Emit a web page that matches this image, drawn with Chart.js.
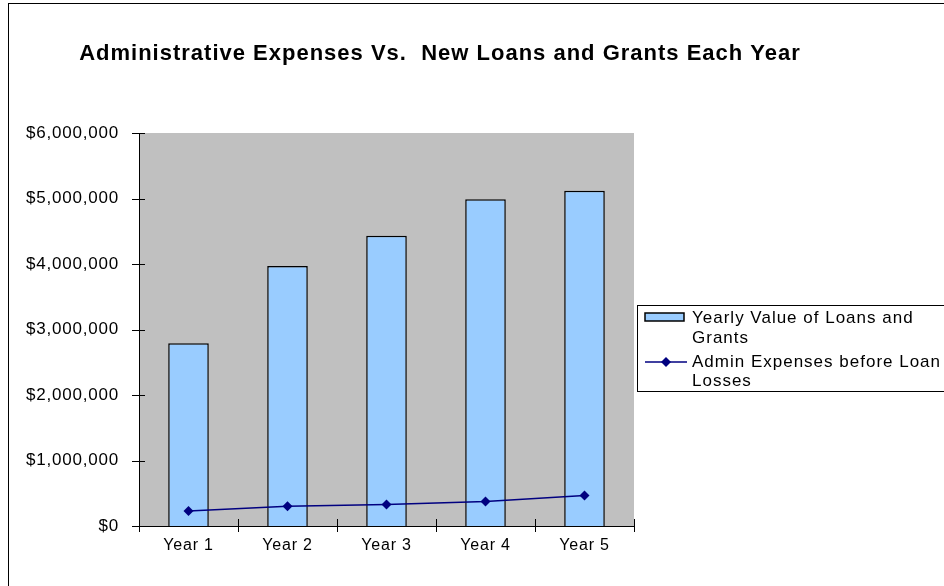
<!DOCTYPE html>
<html>
<head>
<meta charset="utf-8">
<script src="https://cdn.jsdelivr.net/npm/chart.js@4"></script>
<style>
  html, body { margin: 0; padding: 0; background: #ffffff; overflow: hidden; }
  #wrap { position: absolute; left: 0; top: 0; width: 944px; height: 586px; }
</style>
</head>
<body>
<div id="wrap"><canvas id="c" width="944" height="586"></canvas></div>
<script>
// ---- data ----
const categories = ['Year 1', 'Year 2', 'Year 3', 'Year 4', 'Year 5'];
const loansGrants = [2790000, 3970000, 4430000, 4990000, 5120000];
const adminExpenses = [230000, 300000, 330000, 373000, 465000];
const yMin = 0, yMax = 6000000, yStep = 1000000;
const titleText = 'Administrative Expenses Vs.  New Loans and Grants Each Year';
const seriesNames = ['Yearly Value of Loans and Grants', 'Admin Expenses before Loan Losses'];
const legendLines = [['Yearly Value of Loans and', 'Grants'], ['Admin Expenses before Loan', 'Losses']];

const FONT = '"Liberation Sans", Arial, sans-serif';
const BAR_FILL = '#99CCFF';
const LINE_COL = '#000080';
const AXIS_SPACING = '0.8px';

function money(v) { return '$' + Number(v).toLocaleString('en-US'); }

function setSpacing(ctx, px) { try { ctx.letterSpacing = px; } catch (e) {} }

const decor = {
  id: 'decor',
  beforeUpdate(chart) { setSpacing(chart.ctx, AXIS_SPACING); },
  beforeDraw(chart) {
    const ctx = chart.ctx, a = chart.chartArea;
    setSpacing(ctx, AXIS_SPACING);
    ctx.save();
    ctx.fillStyle = '#ffffff';
    ctx.fillRect(0, 0, chart.width, chart.height);
    ctx.strokeStyle = '#000000';
    ctx.lineWidth = 1;
    ctx.strokeRect(8.5, 3.5, 2000, 2000);
    ctx.fillStyle = '#C0C0C0';
    ctx.fillRect(a.left, a.top, a.right - a.left, a.bottom - a.top);
    ctx.restore();
  },
  afterDraw(chart) {
    const ctx = chart.ctx, a = chart.chartArea;
    const ys = chart.scales.y;
    ctx.save();
    ctx.strokeStyle = '#000000';
    ctx.lineWidth = 1;
    // y cross ticks
    ys.ticks.forEach((t, i) => {
      const py = Math.round(ys.getPixelForTick(i)) + 0.5;
      ctx.beginPath(); ctx.moveTo(a.left - 7, py); ctx.lineTo(a.left + 6, py); ctx.stroke();
    });
    // x cross ticks at category boundaries
    const n = categories.length;
    const w = (a.right - a.left) / n;
    for (let i = 0; i <= n; i++) {
      const px = Math.round(a.left + i * w) + 0.5;
      ctx.beginPath(); ctx.moveTo(px, a.bottom - 7); ctx.lineTo(px, a.bottom + 6); ctx.stroke();
    }
    // title
    setSpacing(ctx, '1px');
    ctx.fillStyle = '#000000';
    ctx.font = 'bold 22px ' + FONT;
    ctx.textAlign = 'center';
    ctx.textBaseline = 'alphabetic';
    ctx.fillText(titleText, 440, 60);
    // legend
    setSpacing(ctx, '1px');
    const bx = 637.5, by = 305.5, bh = 86;
    ctx.fillStyle = '#ffffff';
    ctx.fillRect(bx, by, 400, bh);
    ctx.strokeRect(bx, by, 400, bh);
    ctx.font = '17px ' + FONT;
    ctx.textAlign = 'left';
    // entry 1: bar swatch
    ctx.fillStyle = BAR_FILL;
    ctx.fillRect(645, 313, 39, 8);
    ctx.lineWidth = 1.5;
    ctx.strokeStyle = '#000000';
    ctx.strokeRect(645, 313, 39, 8);
    ctx.fillStyle = '#000000';
    ctx.fillText(legendLines[0][0], 692, 323);
    ctx.fillText(legendLines[0][1], 692, 343);
    // entry 2: line + diamond
    const ly = 362;
    ctx.strokeStyle = LINE_COL;
    ctx.lineWidth = 1.5;
    ctx.beginPath(); ctx.moveTo(645, ly); ctx.lineTo(687, ly); ctx.stroke();
    ctx.fillStyle = LINE_COL;
    ctx.beginPath();
    ctx.moveTo(666, ly - 5); ctx.lineTo(671, ly); ctx.lineTo(666, ly + 5); ctx.lineTo(661, ly); ctx.closePath();
    ctx.fill();
    ctx.fillStyle = '#000000';
    ctx.fillText(legendLines[1][0], 692, 367);
    ctx.fillText(legendLines[1][1], 692, 386);
    ctx.restore();
  }
};

new Chart(document.getElementById('c'), {
  data: {
    labels: categories,
    datasets: [
      {
        type: 'line',
        label: seriesNames[1],
        data: adminExpenses,
        borderColor: LINE_COL,
        backgroundColor: LINE_COL,
        borderWidth: 1.5,
        pointStyle: 'rectRot',
        pointRadius: 5,
        pointBorderWidth: 0,
        pointBackgroundColor: LINE_COL,
        tension: 0,
        order: 0
      },
      {
        type: 'bar',
        label: seriesNames[0],
        data: loansGrants,
        backgroundColor: BAR_FILL,
        borderColor: '#000000',
        borderWidth: 1.5,
        categoryPercentage: 0.41,
        barPercentage: 1,
        order: 1
      }
    ]
  },
  options: {
    responsive: false,
    animation: false,
    devicePixelRatio: 1,
    layout: { padding: { left: 0, top: 133, right: 310, bottom: 0 } },
    plugins: { legend: { display: false }, title: { display: false }, tooltip: { enabled: false } },
    scales: {
      x: {
        type: 'category',
        offset: true,
        grid: { display: false, drawTicks: false },
        border: { display: true, color: '#000000', width: 1 },
        ticks: { color: '#000000', font: { family: FONT, size: 16 }, padding: 10, maxRotation: 0, autoSkip: false },
        afterFit(s) { s.height = 60; }
      },
      y: {
        type: 'linear',
        min: yMin, max: yMax,
        grid: { display: false, drawTicks: false },
        border: { display: true, color: '#000000', width: 1 },
        ticks: { stepSize: yStep, color: '#000000', font: { family: FONT, size: 17 }, padding: 20, callback: (v) => money(v) },
        afterFit(s) { s.width = 139; }
      }
    }
  },
  plugins: [decor]
});
</script>
</body>
</html>
